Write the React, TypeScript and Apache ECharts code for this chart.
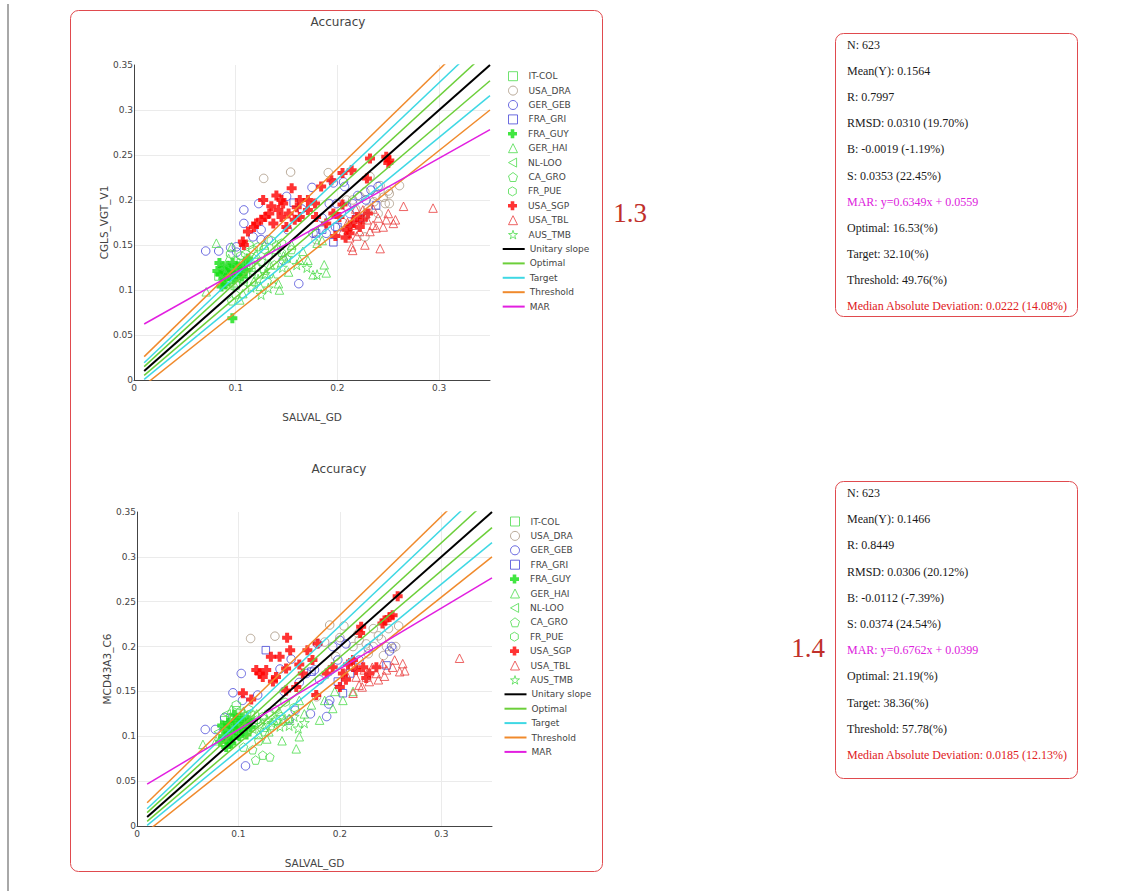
import React, { useEffect, useRef } from 'react';
import * as echarts from 'echarts';

// ---------- data ----------
const siteNames = ['IT-COL', 'USA_DRA', 'GER_GEB', 'FRA_GRI', 'FRA_GUY', 'GER_HAI', 'NL-LOO', 'CA_GRO', 'FR_PUE', 'USA_SGP', 'USA_TBL', 'AUS_TMB'];
const lineNames = ['Unitary slope', 'Optimal', 'Target', 'Threshold', 'MAR'];

// top chart (CGLS_VGT_V1 vs SALVAL_GD)
const topITCOL = [[0.088,0.122],[0.095,0.115],[0.102,0.12],[0.11,0.118],[0.091,0.11],[0.105,0.13],[0.115,0.128],[0.098,0.125],[0.083,0.115],[0.12,0.125],[0.108,0.112],[0.1,0.105]];
const topUSADRA = [[0.1275,0.224],[0.154,0.231],[0.191,0.2304],[0.232,0.226],[0.261,0.216],[0.251,0.207],[0.24,0.185],[0.251,0.196],[0.242,0.216],[0.227,0.209],[0.222,0.204],[0.215,0.2],[0.209,0.2],[0.21,0.167],[0.179,0.156],[0.227,0.159],[0.247,0.196],[0.245,0.203],[0.236,0.198],[0.23,0.19],[0.218,0.19],[0.225,0.178],[0.238,0.205],[0.205,0.175],[0.25,0.21]];
const topGERGEB = [[0.0705,0.1433],[0.0833,0.1433],[0.095,0.147],[0.1007,0.148],[0.101,0.142],[0.108,0.189],[0.108,0.174],[0.1226,0.196],[0.125,0.167],[0.117,0.159],[0.125,0.156],[0.132,0.156],[0.15,0.204],[0.162,0.107],[0.175,0.214],[0.192,0.196],[0.196,0.219],[0.206,0.22],[0.207,0.215],[0.209,0.193],[0.215,0.196],[0.233,0.211],[0.24,0.215],[0.176,0.163],[0.189,0.163],[0.199,0.196],[0.1466,0.133],[0.151,0.167],[0.22,0.205],[0.212,0.185],[0.185,0.18],[0.198,0.17],[0.228,0.2],[0.165,0.19]];
const topFRAGRI = [[0.196,0.153],[0.157,0.197],[0.238,0.194],[0.179,0.163],[0.2,0.17],[0.222,0.18],[0.185,0.167]];
const topFRAGUY = [[0.0967,0.0685],[0.082,0.121],[0.085,0.117],[0.087,0.125],[0.089,0.112],[0.09,0.12],[0.092,0.127],[0.093,0.116],[0.095,0.122],[0.097,0.13],[0.098,0.112],[0.1,0.118],[0.102,0.126],[0.104,0.121],[0.106,0.115],[0.108,0.128],[0.11,0.122],[0.086,0.104],[0.09,0.106],[0.112,0.135],[0.084,0.13]];
const topGERHAI = [[0.081,0.152],[0.096,0.148],[0.071,0.098],[0.143,0.1],[0.163,0.133],[0.171,0.133],[0.176,0.117],[0.187,0.128],[0.189,0.119],[0.155,0.15],[0.104,0.089],[0.107,0.096],[0.124,0.104],[0.118,0.11],[0.13,0.118],[0.098,0.108],[0.09,0.118],[0.112,0.125],[0.134,0.128],[0.085,0.128],[0.147,0.138],[0.14,0.145],[0.093,0.135],[0.12,0.14],[0.128,0.15],[0.152,0.12],[0.166,0.143],[0.18,0.152],[0.185,0.155],[0.142,0.107]];
const topNLLOO = [[0.085,0.125],[0.092,0.128],[0.097,0.119],[0.103,0.123],[0.11,0.131],[0.087,0.112],[0.094,0.104],[0.107,0.109],[0.115,0.12]];
const topCAGRO = [[0.125,0.132],[0.132,0.138],[0.138,0.128],[0.145,0.142],[0.15,0.135],[0.128,0.122],[0.118,0.135],[0.14,0.15],[0.155,0.145],[0.1,0.095],[0.096,0.088]];
const topFRPUE = [[0.11,0.14],[0.105,0.138],[0.117,0.145],[0.122,0.148],[0.128,0.145],[0.1,0.132],[0.095,0.14],[0.135,0.155],[0.113,0.15],[0.145,0.152]];
const topUSASGP = [[0.107,0.154],[0.108,0.15],[0.112,0.165],[0.12,0.174],[0.127,0.2],[0.129,0.181],[0.135,0.193],[0.137,0.174],[0.142,0.189],[0.1466,0.196],[0.145,0.181],[0.155,0.213],[0.163,0.2],[0.171,0.2],[0.1498,0.17],[0.163,0.181],[0.171,0.189],[0.184,0.215],[0.194,0.222],[0.205,0.23],[0.214,0.233],[0.229,0.224],[0.232,0.246],[0.248,0.248],[0.251,0.244],[0.25,0.241],[0.196,0.185],[0.202,0.181],[0.209,0.167],[0.212,0.163],[0.219,0.181],[0.225,0.178],[0.189,0.174],[0.179,0.181],[0.178,0.196],[0.14,0.205],[0.152,0.185],[0.158,0.178],[0.133,0.185],[0.118,0.17],[0.205,0.195],[0.215,0.175],[0.222,0.17],[0.23,0.185],[0.198,0.16],[0.208,0.158],[0.213,0.171],[0.125,0.178],[0.145,0.2],[0.16,0.192]];
const topUSATBL = [[0.265,0.193],[0.294,0.191],[0.248,0.178],[0.255,0.174],[0.257,0.178],[0.214,0.148],[0.227,0.15],[0.242,0.146],[0.215,0.144],[0.222,0.165],[0.216,0.172],[0.229,0.178],[0.235,0.172],[0.238,0.169],[0.225,0.189],[0.219,0.16],[0.232,0.165],[0.245,0.17],[0.21,0.175],[0.228,0.185],[0.24,0.18],[0.218,0.19],[0.235,0.19],[0.25,0.185],[0.205,0.165],[0.212,0.158]];
const topAUSTMB = [[0.18,0.117],[0.151,0.136],[0.129,0.118],[0.137,0.112],[0.146,0.125],[0.16,0.128],[0.122,0.112],[0.132,0.102],[0.115,0.103],[0.17,0.125],[0.125,0.095]];

// bottom chart (MCD43A3_C6 vs SALVAL_GD)
const botITCOL = [[0.098,0.129],[0.102,0.126],[0.092,0.12],[0.086,0.118],[0.106,0.122],[0.112,0.124],[0.095,0.112],[0.1,0.106],[0.115,0.115],[0.09,0.1]];
const botUSADRA = [[0.112,0.209],[0.136,0.2116],[0.19,0.224],[0.204,0.223],[0.218,0.2145],[0.233,0.22],[0.258,0.223],[0.248,0.22],[0.255,0.2],[0.241,0.208],[0.233,0.2],[0.246,0.2],[0.226,0.203],[0.213,0.2],[0.196,0.189],[0.177,0.144],[0.219,0.207],[0.238,0.212],[0.252,0.198],[0.228,0.192],[0.2,0.21],[0.185,0.205],[0.243,0.19]];
const botGERGEB = [[0.0673,0.1076],[0.0772,0.1076],[0.0864,0.121],[0.0946,0.1485],[0.1028,0.17],[0.104,0.14],[0.119,0.146],[0.107,0.067],[0.141,0.175],[0.152,0.186],[0.156,0.129],[0.15,0.118],[0.171,0.125],[0.175,0.174],[0.178,0.203],[0.187,0.122],[0.19,0.14],[0.189,0.136],[0.198,0.185],[0.2,0.207],[0.193,0.2],[0.206,0.203],[0.219,0.185],[0.228,0.198],[0.249,0.195],[0.251,0.2],[0.167,0.17],[0.18,0.163],[0.213,0.177],[0.16,0.16],[0.145,0.15]];
const botFRAGRI = [[0.127,0.196],[0.203,0.148],[0.198,0.161],[0.246,0.179],[0.172,0.172],[0.21,0.17]];
const botFRAGUY = [[0.082,0.094],[0.085,0.1],[0.087,0.108],[0.089,0.096],[0.09,0.115],[0.092,0.104],[0.094,0.11],[0.095,0.098],[0.097,0.118],[0.098,0.106],[0.1,0.112],[0.101,0.1],[0.103,0.12],[0.104,0.108],[0.106,0.114],[0.108,0.102],[0.11,0.118],[0.088,0.088],[0.093,0.092],[0.112,0.11],[0.096,0.124],[0.084,0.112]];
const botGERHAI = [[0.065,0.091],[0.143,0.095],[0.157,0.086],[0.16,0.0995],[0.18,0.118],[0.193,0.131],[0.203,0.14],[0.213,0.15],[0.078,0.095],[0.12,0.102],[0.125,0.11],[0.13,0.105],[0.118,0.125],[0.135,0.118],[0.14,0.128],[0.15,0.12],[0.165,0.125],[0.172,0.135],[0.185,0.14],[0.093,0.13],[0.105,0.128],[0.128,0.097],[0.16,0.14],[0.195,0.15]];
const botNLLOO = [[0.08,0.105],[0.084,0.098],[0.09,0.11],[0.096,0.103],[0.102,0.115],[0.108,0.125],[0.113,0.108],[0.088,0.125]];
const botCAGRO = [[0.114,0.085],[0.117,0.0735],[0.124,0.079],[0.131,0.077],[0.105,0.088],[0.12,0.095],[0.126,0.105],[0.132,0.112],[0.138,0.118]];
const botFRPUE = [[0.118,0.118],[0.124,0.122],[0.13,0.126],[0.136,0.13],[0.142,0.122],[0.11,0.13],[0.098,0.135],[0.146,0.138],[0.155,0.132]];
const botUSASGP = [[0.1044,0.148],[0.1126,0.141],[0.1176,0.174],[0.121,0.17],[0.1274,0.174],[0.124,0.166],[0.132,0.1886],[0.1406,0.1886],[0.137,0.166],[0.134,0.161],[0.148,0.2097],[0.151,0.196],[0.147,0.1756],[0.147,0.151],[0.157,0.155],[0.1635,0.17],[0.168,0.196],[0.173,0.1849],[0.178,0.2034],[0.1767,0.1459],[0.193,0.177],[0.203,0.17],[0.213,0.185],[0.221,0.222],[0.242,0.2257],[0.249,0.233],[0.252,0.235],[0.257,0.256],[0.244,0.229],[0.216,0.174],[0.223,0.177],[0.229,0.17],[0.236,0.177],[0.2,0.155],[0.206,0.163],[0.187,0.17],[0.22,0.215],[0.16,0.18],[0.208,0.18],[0.226,0.165]];
const botUSATBL = [[0.318,0.187],[0.262,0.181],[0.264,0.173],[0.252,0.177],[0.254,0.185],[0.244,0.167],[0.229,0.161],[0.213,0.148],[0.219,0.157],[0.226,0.166],[0.236,0.17],[0.224,0.174],[0.232,0.177],[0.242,0.181],[0.216,0.166],[0.206,0.17],[0.246,0.174],[0.222,0.155],[0.259,0.172],[0.238,0.163]];
const botAUSTMB = [[0.141,0.111],[0.159,0.109],[0.15,0.112],[0.145,0.118],[0.155,0.122],[0.133,0.115],[0.122,0.113],[0.165,0.115],[0.128,0.118]];

const topSites = [topITCOL, topUSADRA, topGERGEB, topFRAGRI, topFRAGUY, topGERHAI, topNLLOO, topCAGRO, topFRPUE, topUSASGP, topUSATBL, topAUSTMB];
const botSites = [botITCOL, botUSADRA, botGERGEB, botFRAGRI, botFRAGUY, botGERHAI, botNLLOO, botCAGRO, botFRPUE, botUSASGP, botUSATBL, botAUSTMB];

// uncertainty bounds: y = x*(1 +/- rel) +/- abs  (Optimal, Target, Threshold)
const boundRel = [0.037, 0.073, 0.1];
const boundAbs = [0.0045, 0.0085, 0.015];
const marTop = [0.6349, 0.0559];
const marBot = [0.6762, 0.0399];
const lineXRange = [0.01, 0.35];

const yTitles = ['CGLS_VGT_V1', 'MCD43A3_C6'];
const xTitle = 'SALVAL_GD';
const chartTitle = 'Accuracy';
const panelLabels = ['1.3', '1.4'];

const statsTop = ['N: 623', 'Mean(Y): 0.1564', 'R: 0.7997', 'RMSD: 0.0310 (19.70%)', 'B: -0.0019 (-1.19%)', 'S: 0.0353 (22.45%)', 'MAR: y=0.6349x + 0.0559', 'Optimal: 16.53(%)', 'Target: 32.10(%)', 'Threshold: 49.76(%)', 'Median Absolute Deviation: 0.0222 (14.08%)'];
const statsBot = ['N: 623', 'Mean(Y): 0.1466', 'R: 0.8449', 'RMSD: 0.0306 (20.12%)', 'B: -0.0112 (-7.39%)', 'S: 0.0374 (24.54%)', 'MAR: y=0.6762x + 0.0399', 'Optimal: 21.19(%)', 'Target: 38.36(%)', 'Threshold: 57.78(%)', 'Median Absolute Deviation: 0.0185 (12.13%)'];

// ---------- styles ----------
const CROSS = 'path://M3,0H7V3H10V7H7V10H3V7H0V3H3Z';
const TRI_LEFT = 'path://M0,5L9,0L9,10Z';
const PENT = 'path://M5,0L10,3.8L8.1,10L1.9,10L0,3.8Z';
const HEX = 'path://M5,0L9.33,2.5L9.33,7.5L5,10L0.67,7.5L0.67,2.5Z';
const STAR = 'path://M5,0L6.18,3.6L10,3.6L6.9,5.9L8.1,9.5L5,7.3L1.9,9.5L3.1,5.9L0,3.6L3.82,3.6Z';
const GREEN = '#4cdc4c';
const siteStyles = [
  { symbol: 'rect', color: GREEN, open: true, size: 7.5 },
  { symbol: 'circle', color: '#a8957f', open: true, size: 8.5 },
  { symbol: 'circle', color: '#4646d8', open: true, size: 8.5 },
  { symbol: 'rect', color: '#4646d8', open: true, size: 7.5 },
  { symbol: CROSS, color: '#12e012', open: false, size: 10 },
  { symbol: 'triangle', color: GREEN, open: true, size: 8.5 },
  { symbol: TRI_LEFT, color: GREEN, open: true, size: 8.5 },
  { symbol: PENT, color: GREEN, open: true, size: 8.5 },
  { symbol: HEX, color: GREEN, open: true, size: 8.5 },
  { symbol: CROSS, color: '#ff0000', open: false, size: 10 },
  { symbol: 'triangle', color: '#e83c3c', open: true, size: 8.5 },
  { symbol: STAR, color: GREEN, open: true, size: 10 },
];
const lineColors = ['#000000', '#6ccf3a', '#3fd8e4', '#f08a2c', '#e21fe0'];
const FONT = '"DejaVu Sans", Verdana, sans-serif';
const SERIF = '"Liberation Serif", "Times New Roman", serif';

const grids = [
  { left: 134, top: 65, width: 356, height: 315 },
  { left: 137, top: 512, width: 355, height: 314 },
];
const legendPos = [
  { markLeft: 508, lineLeft: 501.7, top: 71.2 },
  { markLeft: 510, lineLeft: 503.5, top: 516.5 },
];
const LEG_STEP = 14.4;

function buildSeries(gi: number, sites: number[][][], mar: number[]) {
  const series: any[] = [];
  sites.forEach((pts, i) => {
    const st = siteStyles[i];
    series.push({
      type: 'scatter',
      name: siteNames[i],
      xAxisIndex: gi,
      yAxisIndex: gi,
      data: pts,
      symbol: st.symbol,
      symbolSize: st.size,
      itemStyle: st.open
        ? { color: 'transparent', borderColor: st.color, borderWidth: 1 }
        : { color: st.color, borderWidth: 0 },
      emphasis: { disabled: true },
      silent: true,
    });
  });
  const [x0, x1] = lineXRange;
  const mk = (name: string, color: string, width: number, f: (x: number) => number) => ({
    type: 'line',
    name,
    xAxisIndex: gi,
    yAxisIndex: gi,
    data: [[x0, f(x0)], [x1, f(x1)]],
    symbol: 'none',
    lineStyle: { color, width },
    itemStyle: { color },
    silent: true,
    clip: true,
    emphasis: { disabled: true },
  });
  series.push(mk(lineNames[0], lineColors[0], 2, (x) => x));
  for (let b = 0; b < 3; b++) {
    const r = boundRel[b];
    const a = boundAbs[b];
    series.push(mk(lineNames[b + 1], lineColors[b + 1], 1.5, (x) => x * (1 + r) + a));
    series.push(mk(lineNames[b + 1], lineColors[b + 1], 1.5, (x) => x * (1 - r) - a));
  }
  series.push(mk(lineNames[4], lineColors[4], 1.5, (x) => mar[0] * x + mar[1]));
  return series;
}

export default function App() {
  const ref = useRef<HTMLDivElement>(null);
  useEffect(() => {
    if (!ref.current) return;
    const chart = echarts.init(ref.current, undefined, { renderer: 'svg' });

    const xAxes = grids.map((_, i) => ({
      type: 'value',
      gridIndex: i,
      min: 0,
      max: 0.35,
      interval: 0.1,
      name: xTitle,
      nameLocation: 'middle',
      nameGap: 31,
      nameTextStyle: { fontSize: 10.5, color: '#444', fontFamily: FONT },
      axisLine: { show: true, onZero: false, lineStyle: { color: '#444', width: 1 } },
      axisTick: { show: false },
      axisLabel: { fontSize: 9, color: '#444', margin: 3, showMaxLabel: false, fontFamily: FONT },
      splitLine: { show: true, showMaxLine: false, lineStyle: { color: '#ebebeb', width: 1 } },
    }));
    const yAxes = grids.map((_, i) => ({
      type: 'value',
      gridIndex: i,
      min: 0,
      max: 0.35,
      interval: 0.05,
      name: yTitles[i],
      nameLocation: 'middle',
      nameGap: 23,
      nameTextStyle: { fontSize: 10.5, color: '#444', fontFamily: FONT },
      axisLine: { show: true, onZero: false, lineStyle: { color: '#444', width: 1 } },
      axisTick: { show: false },
      axisLabel: { fontSize: 9, color: '#444', margin: 1, fontFamily: FONT },
      splitLine: { show: true, showMaxLine: false, lineStyle: { color: '#ebebeb', width: 1 } },
    }));

    const legends: any[] = [];
    legendPos.forEach((p) => {
      siteNames.forEach((nm, k) => {
        legends.push({
          orient: 'vertical',
          left: p.markLeft,
          top: p.top + k * LEG_STEP,
          padding: 0,
          itemWidth: 9,
          itemHeight: 9,
          selectedMode: false,
          data: [nm],
          itemStyle: { borderWidth: 1 },
          textStyle: { fontSize: 9, color: '#444', fontFamily: FONT, lineHeight: 10, padding: [0, 0, 0, 6] },
        });
      });
      lineNames.forEach((nm, k) => {
        legends.push({
          orient: 'vertical',
          left: p.lineLeft,
          top: p.top + (siteNames.length + k) * LEG_STEP,
          padding: 0,
          itemWidth: 22,
          itemHeight: 9,
          selectedMode: false,
          data: [nm],
          itemStyle: { color: 'transparent', borderColor: 'transparent', borderWidth: 0, opacity: 0 },
          textStyle: { fontSize: 9, color: '#444', fontFamily: FONT, lineHeight: 10 },
        });
      });
    });

    const statColor = (i: number) => (i === 6 ? '#dd22dd' : i === 10 ? '#e0201c' : '#1a1a1a');
    const statTexts = (lines: string[], y0: number, step: number) =>
      lines.map((t, i) => ({
        type: 'text',
        x: 847,
        y: y0 + i * step,
        silent: true,
        style: {
          text: t,
          fill: statColor(i),
          fontSize: 12,
          fontFamily: SERIF,
          align: 'left',
          verticalAlign: 'middle',
          textAlign: 'left',
          textVerticalAlign: 'middle',
        },
      }));
    const centerText = (t: string, x: number, y: number, size: number, fill: string, family: string) => ({
      type: 'text',
      x,
      y,
      silent: true,
      style: { text: t, fill, fontSize: size, fontFamily: family, align: 'center', verticalAlign: 'middle', textAlign: 'center', textVerticalAlign: 'middle' },
    });

    const graphic: any[] = [
      { type: 'line', silent: true, shape: { x1: 8, y1: 4, x2: 8, y2: 891 }, style: { stroke: '#a8a8a8', lineWidth: 2 } },
      { type: 'rect', silent: true, shape: { x: 70.5, y: 10.5, width: 532, height: 861, r: 8 }, style: { fill: 'none', stroke: '#e04a4e', lineWidth: 1 } },
      { type: 'rect', silent: true, shape: { x: 835.5, y: 33.5, width: 242, height: 283, r: 8 }, style: { fill: 'none', stroke: '#e04a4e', lineWidth: 1 } },
      { type: 'rect', silent: true, shape: { x: 835.5, y: 481.5, width: 242, height: 297, r: 8 }, style: { fill: 'none', stroke: '#e04a4e', lineWidth: 1 } },
      centerText(chartTitle, 338, 22, 12, '#444', FONT),
      centerText(chartTitle, 339, 469, 12, '#444', FONT),
      centerText(panelLabels[0], 630, 213, 27, '#c0302a', SERIF),
      centerText(panelLabels[1], 808, 648, 27, '#c0302a', SERIF),
      ...statTexts(statsTop, 45, 26.1),
      ...statTexts(statsBot, 493, 26.2),
    ];

    chart.setOption({
      animation: false,
      textStyle: { fontFamily: FONT },
      grid: grids,
      xAxis: xAxes,
      yAxis: yAxes,
      legend: legends,
      series: [...buildSeries(0, topSites, marTop), ...buildSeries(1, botSites, marBot)],
      graphic,
    });
    return () => chart.dispose();
  }, []);
  return <div ref={ref} style={{ position: 'absolute', left: 0, top: 0, width: 1125, height: 891, background: '#fff' }} />;
}
